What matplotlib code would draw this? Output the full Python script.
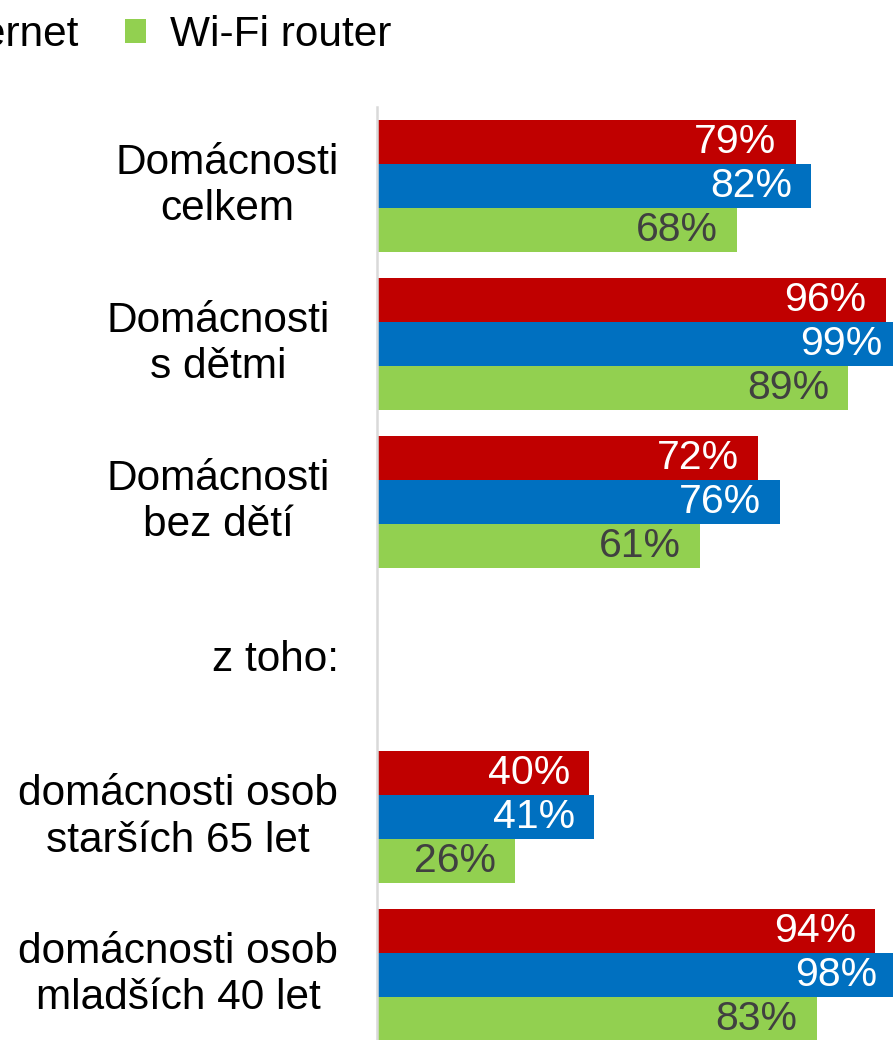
import matplotlib.pyplot as plt
from matplotlib.transforms import blended_transform_factory

plt.rcParams['font.family'] = ['Liberation Sans', 'DejaVu Sans']

# kategorie (prázdná skupina "z toho:" nemá hodnoty)
categories = ['Domácnosti\ncelkem', 'Domácnosti\ns dětmi', 'Domácnosti\nbez dětí',
              'z toho:', 'domácnosti osob\nstarších 65 let', 'domácnosti osob\nmladších 40 let']
series_names = ['Počítač', 'Internet', 'Wi-Fi router']
pocitac = [79, 96, 72, None, 40, 94]
internet = [82, 99, 76, None, 41, 98]
wifi = [68, 89, 61, None, 26, 83]

colors = ['#C00000', '#0070C0', '#92D050']
text_colors = ['white', 'white', '#404040']
# středy popisků kategorií v pixelech (zarovnání jako v originále)
label_centers_px = [227, 218, 218, 276, 178, 178]

W, H = 893, 1040
fig = plt.figure(figsize=(W / 100, H / 100), dpi=100)
ax = fig.add_axes([377 / W, 0, 1 - 377 / W, 1 - 107 / H])

bar_h = 0.279
offsets = [-bar_h, 0, bar_h]
handles = []
for vals, name, col, tcol, off in zip([pocitac, internet, wifi], series_names,
                                      colors, text_colors, offsets):
    ys = [i + off for i, v in enumerate(vals) if v is not None]
    xs = [v for v in vals if v is not None]
    bars = ax.barh(ys, xs, height=bar_h, color=col, label=name)
    handles.append(bars)
    for y, x in zip(ys, xs):
        ax.annotate(f'{x}%', (x, y), xytext=(-13.7, 0), textcoords='offset points',
                    ha='right', va='center', fontsize=29.5, color=tcol,
                    annotation_clip=False)

ax.set_ylim(5.41, -0.5)
ax.set_xlim(0, 97.4)
ax.set_xticks([])
ax.set_yticks([])
for s in ['top', 'right', 'bottom']:
    ax.spines[s].set_visible(False)
ax.spines['left'].set_color('#d9d9d9')
ax.spines['left'].set_linewidth(1.8)

trans = blended_transform_factory(fig.transFigure, ax.transData)
for i, (lab, cx) in enumerate(zip(categories, label_centers_px)):
    ax.text(cx / W, i, lab, transform=trans, ha='center', va='center',
            multialignment='center', fontsize=30.5, color='black', linespacing=1.2)

fig.legend(handles=handles, loc='center right', bbox_to_anchor=(391 / W, 1 - 35 / H),
           ncol=3, frameon=False, fontsize=30.5, handlelength=0.5, handleheight=0.5,
           handletextpad=0.55, columnspacing=1.1, borderpad=0, borderaxespad=0)

fig.savefig('out.png', dpi=100)
